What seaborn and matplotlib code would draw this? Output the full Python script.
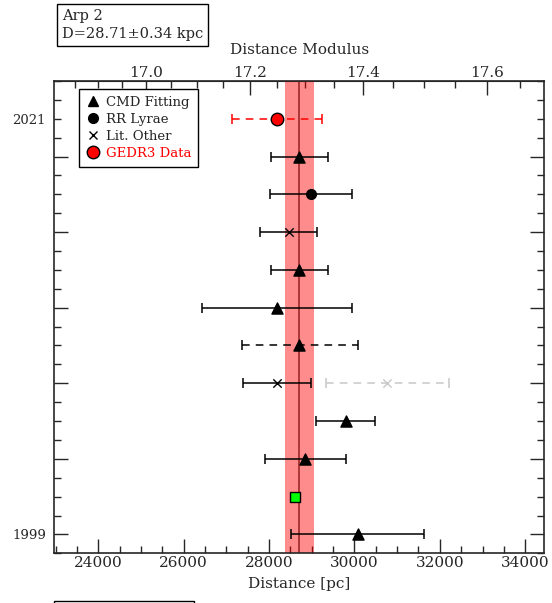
"""
Arp 2 distance compilation: literature distances vs. adopted mean.
"""
import numpy as np
import pandas as pd
import matplotlib
matplotlib.use('Agg')
import matplotlib.pyplot as plt
from matplotlib.lines import Line2D
from matplotlib.patches import Rectangle
from matplotlib.ticker import MultipleLocator, FixedLocator
import seaborn as sns

sns.set_style('ticks')
plt.rcParams['font.family'] = ['DejaVu Serif']

# ── data ──────────────────────────────────────────────────────────────────────
years = [2021, 2019, 2017, 2015, 2013, 2011, 2009, 2007, 2007, 2005, 2003, 2001, 1999]
dist = [28190, 28705, 28980, 28455, 28705, 28183, 28712, 28183, 30762, 29791, 28846, 28605, 30072]
dist_lo = [27127, 28049, 28025, 27791, 28049, 26438, 27362, 27400, 29322, 29097, 27901, 28605, 28502]
dist_hi = [29251, 29378, 29941, 29111, 29378, 29932, 30072, 28980, 32216, 30487, 29791, 28605, 31636]
method = ['GEDR3', 'CMD', 'RR', 'Lit', 'CMD', 'CMD', 'CMD', 'Lit', 'LitOld', 'CMD', 'CMD', 'Other', 'CMD']
dashed = [True, False, False, False, False, False, True, False, True, False, False, False, False]

d_mean = 28710
d_err = 340

df = pd.DataFrame({'year': years, 'dist': dist, 'lo': dist_lo, 'hi': dist_hi,
                   'method': method, 'dashed': dashed})

styles = {
    'CMD':    dict(marker='^', color='black', edge='black', ms=8),
    'RR':     dict(marker='o', color='black', edge='black', ms=7),
    'Lit':    dict(marker='x', color='black', edge='black', ms=6),
    'LitOld': dict(marker='x', color='#c8c8c8', edge='#c8c8c8', ms=6),
    'GEDR3':  dict(marker='o', color='#ff0000', edge='black', ms=9),
    'Other':  dict(marker='s', color='#00ff00', edge='black', ms=7),
}

def d2mu(d):
    return 5 * np.log10(np.clip(d, 1, None)) - 5

def mu2d(mu):
    return 10 ** ((np.asarray(mu) + 5) / 5)

# ── figure ────────────────────────────────────────────────────────────────────
fig = plt.figure(figsize=(5.52, 6.03), dpi=100)
ax = fig.add_axes([0.0984, 0.0824, 0.8880, 0.7833])

ax.axvspan(d_mean - d_err, d_mean + d_err, color='#ff0000', alpha=0.45, lw=0, zorder=1)
ax.axvline(d_mean, color='#a02828', lw=1.2, zorder=2)

# error bars
for _, r in df.iterrows():
    if r['hi'] - r['lo'] < 1:
        continue
    ecol = '#ff0000' if r['method'] == 'GEDR3' else ('#c8c8c8' if r['method'] == 'LitOld' else 'black')
    eb = ax.errorbar(r['dist'], r['year'], xerr=[[r['dist'] - r['lo']], [r['hi'] - r['dist']]],
                     fmt='none', ecolor=ecol, elinewidth=1.1, capsize=3.5, capthick=1.1, zorder=3)
    if r['dashed']:
        eb[2][0].set_linestyle((0, (5, 4)))

# markers
for m, st in styles.items():
    sub = df[df['method'] == m]
    sns.scatterplot(data=sub, x='dist', y='year', ax=ax, marker=st['marker'],
                    color=st['color'], edgecolor=st['edge'] if st['marker'] != 'x' else None,
                    s=st['ms'] ** 2, linewidth=1.0, zorder=4, legend=False)

ax.set_xlim(0.8 * d_mean, 1.2 * d_mean)
ax.set_ylim(1998, 2023)
ax.set_xlabel('Distance [pc]', fontsize=11, labelpad=5)
ax.set_ylabel('')

ax.xaxis.set_major_locator(MultipleLocator(2000))
ax.xaxis.set_minor_locator(MultipleLocator(500))
ax.yaxis.set_major_locator(FixedLocator([1999, 2003, 2007, 2011, 2015, 2019]))
ax.set_yticklabels(['1999', '', '', '', '', ''])
ax.set_yticks(list(range(1998, 2024)), minor=True)
ax.set_yticklabels(['2021' if y == 2021 else '' for y in range(1998, 2024)], minor=True)
ax.tick_params(axis='x', which='both', direction='in', top=False, labelsize=11, pad=2)
ax.tick_params(axis='y', which='both', direction='in', right=True, labelsize=9.5, pad=6)
ax.tick_params(which='major', length=10, width=1)
ax.tick_params(which='minor', length=5, width=1)
for s in ax.spines.values():
    s.set_linewidth(1.2)

sec = ax.secondary_xaxis('top', functions=(d2mu, mu2d))
sec.set_xticks([17.0, 17.2, 17.4, 17.6])
sec.set_xticklabels(['17.0', '17.2', '17.4', '17.6'])
sec.set_xticks(np.arange(16.85, 17.70, 0.05), minor=True)
sec.tick_params(which='both', direction='in', labelsize=11, pad=1)
sec.tick_params(which='major', length=10, width=1)
sec.tick_params(which='minor', length=5, width=1)
sec.set_xlabel('Distance Modulus', fontsize=11, labelpad=8)

# legend
handles = [
    Line2D([], [], ls='none', marker='^', color='black', ms=7),
    Line2D([], [], ls='none', marker='o', color='black', ms=7),
    Line2D([], [], ls='none', marker='x', color='black', ms=6),
    Line2D([], [], ls='none', marker='o', mfc='#ff0000', mec='black', ms=9),
]
leg = ax.legend(handles, ['CMD Fitting', 'RR Lyrae', 'Lit. Other', 'GEDR3 Data'],
                loc='upper left', bbox_to_anchor=(0.036, 0.996), fontsize=9.5,
                frameon=True, fancybox=False, edgecolor='black', framealpha=1,
                handletextpad=0.4, handlelength=1.2, labelspacing=0.3, borderpad=0.5)
leg.get_frame().set_linewidth(1.0)
leg.get_texts()[3].set_color('#ff0000')

# name / distance box
fig.text(62 / 552, 1 - 25 / 603, 'Arp 2\nD=28.71\u00b10.34 kpc', fontsize=10.5,
         ha='left', va='center', linespacing=1.35,
         bbox=dict(boxstyle='square,pad=0.35', fc='white', ec='black', lw=1))

# edge of the next panel's box at the very bottom
fig.patches.append(Rectangle((54 / 552, -0.05), 140 / 552, 0.05 + 2 / 603,
                             transform=fig.transFigure, fill=False, ec='black', lw=1))

plt.savefig('out.png', dpi=100)
plt.close()
